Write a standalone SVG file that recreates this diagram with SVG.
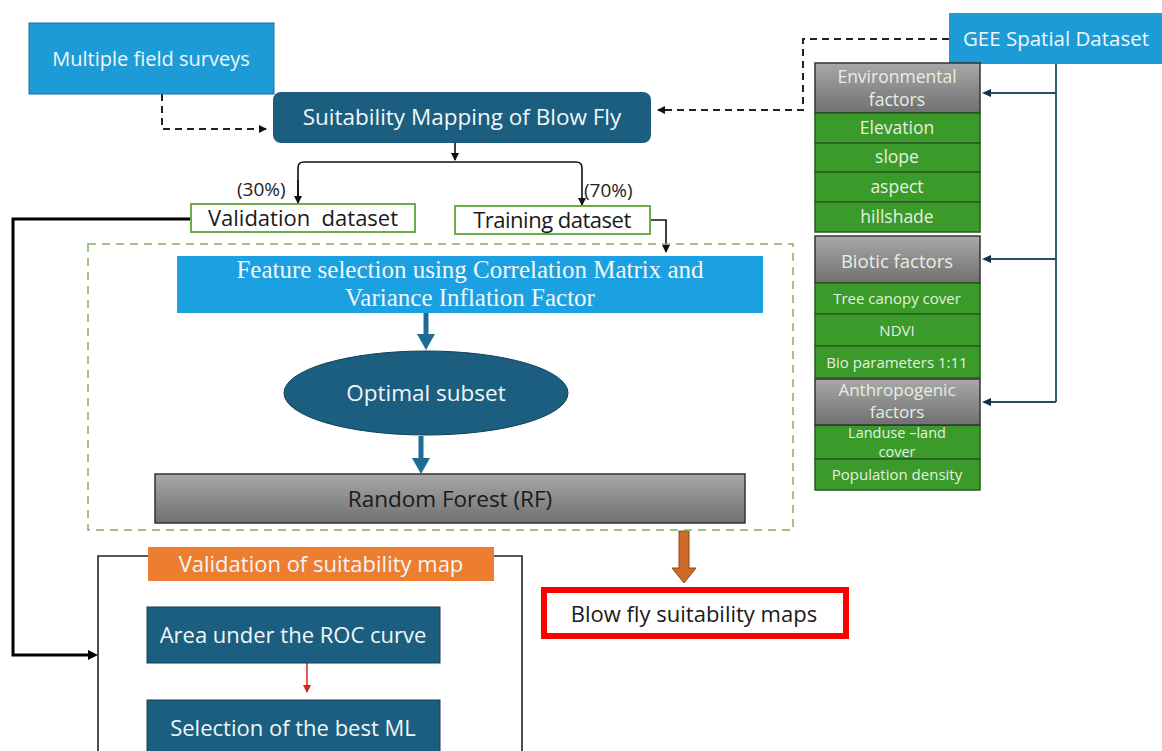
<svg xmlns="http://www.w3.org/2000/svg" width="1162" height="751" viewBox="0 0 1162 751">
<style>
text{font-family:"Open Sans","Liberation Sans",sans-serif;}
.w{fill:#f2f6f8;text-anchor:middle;}
.k{fill:#1a1a1a;text-anchor:middle;}
.g{fill:#3a9a2a;stroke:#2a5a20;stroke-width:1.5;}
.gr{fill:url(#gray);stroke:#333;stroke-width:1.5;}
.gl{fill:#e6f0e0;text-anchor:middle;font-size:17.5px;}
.gs{fill:#e6f0e0;text-anchor:middle;font-size:15px;}
.ln{fill:none;stroke:#111;stroke-width:1.6;}
.dash{fill:none;stroke:#222;stroke-width:2;stroke-dasharray:7 5;}
</style>
<defs>
<linearGradient id="gray" x1="0" y1="0" x2="0" y2="1"><stop offset="0" stop-color="#a8a8a8"/><stop offset="1" stop-color="#707070"/></linearGradient>
<marker id="ah" markerWidth="8" markerHeight="8" refX="7" refY="4" orient="auto" markerUnits="userSpaceOnUse"><path d="M0,0 L8,4 L0,8 z" fill="#111"/></marker>
<marker id="ahr" markerWidth="8" markerHeight="8" refX="7" refY="4" orient="auto" markerUnits="userSpaceOnUse"><path d="M0,0 L8,4 L0,8 z" fill="#e02020"/></marker>
</defs>
<rect width="1162" height="751" fill="#fff"/>

<g id="connectors">
<path class="dash" d="M162,94 V129 H266" marker-end="url(#ah)"/>
<path class="dash" d="M949,39 H803 V110 H658" marker-end="url(#ah)"/>
<path class="ln" d="M455,143 V160" marker-end="url(#ah)"/>
<path class="ln" d="M298,203 V168 Q298,162 304,162 H576 Q582,162 582,168 V205" marker-end="url(#ah)"/>
<path class="ln" d="M298,180 V203" marker-end="url(#ah)"/>
<path class="ln" d="M650,220 H666 V252" marker-end="url(#ah)"/>
<path fill="none" stroke="#000" stroke-width="3" d="M191,219 H13 V655 H90"/>
<path d="M88,650 L98,655 L88,660 z" fill="#000"/>
<path fill="none" stroke="#1c4f6e" stroke-width="1.8" d="M1056,63 V402 M1056,93 H984 M1056,259 H984 M1056,402 H984"/>
<path d="M982,93 l9,-4 v8 z M982,259 l9,-4 v8 z M982,402 l9,-4 v8 z" fill="#1c2f3e"/>
<path fill="none" stroke="#1f6c92" stroke-width="5" d="M426,313 V336"/>
<path d="M417,334 L435,334 L426,350 z" fill="#1f6c92"/>
<path fill="none" stroke="#1f6c92" stroke-width="5" d="M421,436 V460"/>
<path d="M412,458 L430,458 L421,474 z" fill="#1f6c92"/>
<path d="M679,531 H689 V568 H696 L684,583 L672,568 H679 z" fill="#d06a28" stroke="#8a4a20" stroke-width="1"/>
<path fill="none" stroke="#e02020" stroke-width="1.5" d="M307,663 V692" marker-end="url(#ahr)"/>
<path fill="none" stroke="#222" stroke-width="1.6" d="M148,556 H98 V751 M494,556 H522 V751"/>
<rect x="88" y="244" width="705" height="286" fill="none" stroke="#7fb45a" stroke-width="1.5" stroke-dasharray="8 6"/>
</g>

<g id="n-surveys"><rect x="29" y="23" width="245" height="71" fill="#1d9bd7" stroke="#1a6fa0" stroke-width="1"/><text class="w" x="151" y="66" font-size="20">Multiple field surveys</text></g>
<g id="n-suit"><rect x="273" y="92" width="378" height="51" rx="8" fill="#1b5e80"/><text class="w" x="462" y="125" font-size="22.5">Suitability Mapping of Blow Fly</text></g>
<g id="n-gee"><rect x="949" y="13" width="213" height="51" fill="#1d9bd7"/><text class="w" x="1056" y="46" font-size="20.5">GEE Spatial Dataset</text></g>

<g id="n-env"><rect class="gr" x="815" y="63" width="165" height="50"/><text class="gl" x="897" y="83">Environmental</text><text class="gl" x="897" y="106">factors</text></g>
<g id="n-elev"><rect class="g" x="815" y="113" width="165" height="30"/><text class="gl" x="897" y="134">Elevation</text></g>
<g id="n-slope"><rect class="g" x="815" y="143" width="165" height="29"/><text class="gl" x="897" y="163">slope</text></g>
<g id="n-aspect"><rect class="g" x="815" y="172" width="165" height="30"/><text class="gl" x="897" y="193">aspect</text></g>
<g id="n-hill"><rect class="g" x="815" y="202" width="165" height="30"/><text class="gl" x="897" y="223">hillshade</text></g>
<g id="n-biotic"><rect class="gr" x="815" y="236" width="165" height="47"/><text class="gl" x="897" y="268" style="font-size:18.5px">Biotic factors</text></g>
<g id="n-tree"><rect class="g" x="815" y="283" width="165" height="31"/><text class="gs" x="897" y="304">Tree canopy cover</text></g>
<g id="n-ndvi"><rect class="g" x="815" y="314" width="165" height="32"/><text class="gs" x="897" y="336">NDVI</text></g>
<g id="n-bio"><rect class="g" x="815" y="346" width="165" height="32"/><text class="gs" x="897" y="368">Bio parameters 1:11</text></g>
<g id="n-landuse"><rect class="g" x="815" y="425" width="165" height="34"/><text class="gs" x="897" y="438" style="font-size:14.5px">Landuse –land</text><text class="gs" x="897" y="457" style="font-size:14.5px">cover</text></g>
<g id="n-anthro"><rect class="gr" x="815" y="379" width="165" height="46"/><text class="gl" x="897" y="396" style="font-size:17px">Anthropogenic</text><text class="gl" x="897" y="418" style="font-size:17px">factors</text></g>
<g id="n-pop"><rect class="g" x="815" y="459" width="165" height="31"/><text class="gs" x="897" y="480">Population density</text></g>

<g id="lbl-30"><text x="237" y="196" font-size="19" fill="#222">(30%)</text></g>
<g id="lbl-70"><text x="584" y="197" font-size="19" fill="#222">(70%)</text></g>
<g id="n-valid"><rect x="191" y="204" width="224" height="28" fill="#fff" stroke="#6aab4a" stroke-width="2"/><text class="k" x="303" y="226" font-size="22" xml:space="preserve">Validation  dataset</text></g>
<g id="n-train"><rect x="455" y="206" width="195" height="28" fill="#fff" stroke="#6aab4a" stroke-width="2"/><text class="k" x="552" y="228" font-size="22" letter-spacing="-0.5">Training dataset</text></g>

<g id="n-feature"><rect x="177" y="256" width="586" height="57" fill="#1ba1e2"/><text class="w" x="470" y="278" font-size="25" style="font-family:'Liberation Serif',serif">Feature selection using Correlation Matrix and</text><text class="w" x="470" y="306" font-size="25" style="font-family:'Liberation Serif',serif">Variance Inflation Factor</text></g>
<g id="n-optimal"><ellipse cx="426" cy="393" rx="142" ry="42" fill="#1b5e80" stroke="#143f57" stroke-width="1"/><text class="w" x="426" y="401" font-size="22.5">Optimal subset</text></g>
<g id="n-rf"><rect x="155" y="474" width="590" height="49" fill="url(#gray)" stroke="#333" stroke-width="1.5"/><text class="k" x="450" y="507" font-size="22.5">Random Forest (RF)</text></g>
<g id="n-maps"><rect x="544" y="590" width="302" height="46" fill="#fff" stroke="#f00" stroke-width="6"/><text class="k" x="694" y="622" font-size="22">Blow fly suitability maps</text></g>
<g id="n-valmap"><rect x="148" y="547" width="346" height="34" fill="#ed7d31"/><text class="w" x="321" y="572" font-size="22">Validation of suitability map</text></g>
<g id="n-roc"><rect x="147" y="607" width="293" height="56" fill="#1b5e80" stroke="#143f57" stroke-width="1"/><text class="w" x="293" y="643" font-size="22">Area under the ROC curve</text></g>
<g id="n-best"><rect x="147" y="700" width="293" height="60" fill="#1b5e80" stroke="#143f57" stroke-width="1"/><text class="w" x="293" y="736" font-size="22">Selection of the best ML</text></g>
</svg>
